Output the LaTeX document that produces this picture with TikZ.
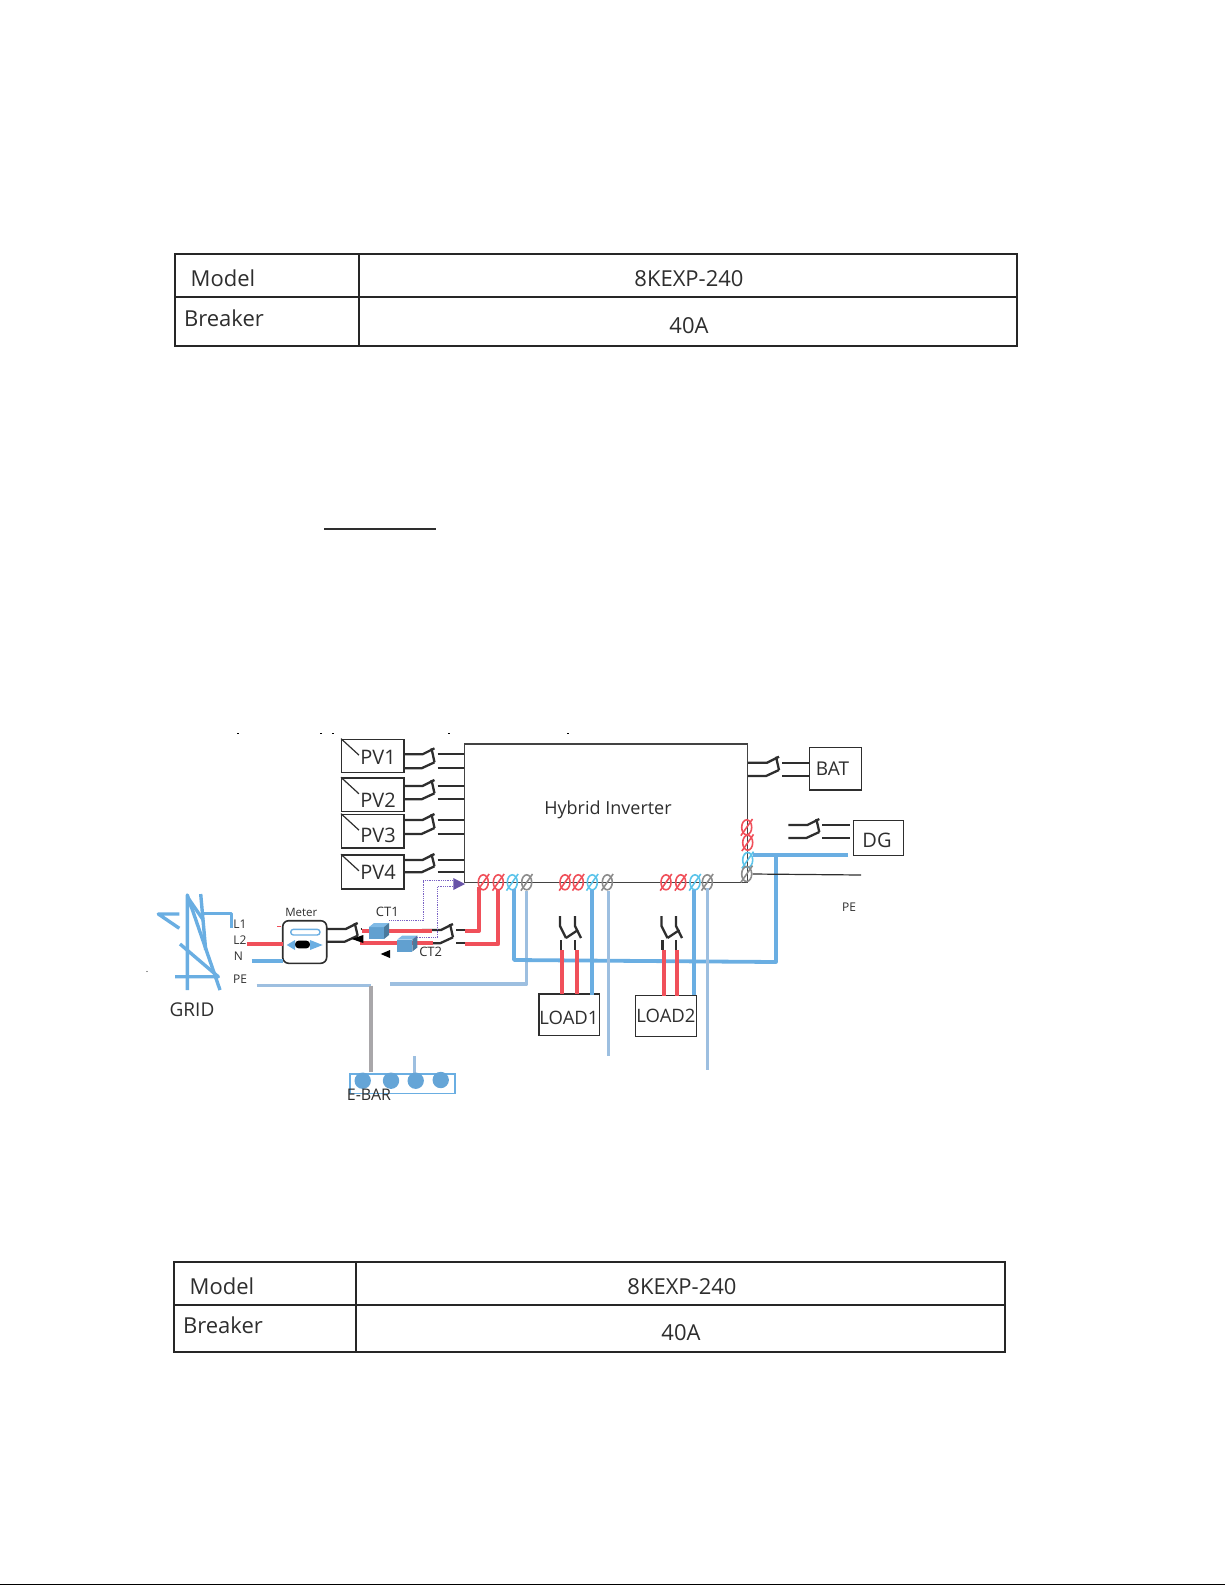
\documentclass[tikz,border=0pt]{standalone}
\usepackage{fontspec}
\setmainfont{Open Sans}
\usetikzlibrary{shapes.geometric}
\definecolor{wirered}{HTML}{F0505A}
\definecolor{wireblue}{HTML}{6AAEE2}
\definecolor{wirepale}{HTML}{9DBFE0}
\definecolor{wiregray}{HTML}{A9A7AA}
\definecolor{termblue}{HTML}{5CC4EA}
\definecolor{termgray}{HTML}{8C8C8C}
\definecolor{sigpurple}{HTML}{7A62C4}
\definecolor{inkdark}{HTML}{2E2E2E}
\tikzset{
	boxnode/.style={draw=inkdark, line width=1.4, inner sep=0pt, text=inkdark},
	lbl/.style={font=\fontsize{#1}{#1}\selectfont, text=inkdark, inner sep=0pt},
	redwire/.style={wirered, line width=4, line join=round},
	bluewire/.style={wireblue, line width=3.8, line join=round},
	palewire/.style={wirepale, line width=3.4, line join=round},
	swline/.style={inkdark, line width=2.3},
	terminal/.style={ellipse, draw=#1, line width=1.6, inner sep=0pt, minimum width=10, minimum height=15},
	tblrule/.style={line width=2.4, draw=black!85}
}
% double pole switch: name, left end, upper y, lower y, right end
\newcommand{\dswitch}[5]{
	\coordinate (#1ul) at (#2,#3);
	\coordinate (#1ll) at (#2,#4);
	\coordinate (#1um) at ({#2+19},#3);
	\coordinate (#1lm) at ({#2+18},#4);
	\coordinate (#1ub) at ({#2+31},{#3-6});
	\coordinate (#1lb) at ({#2+31},{#4-6});
	\coordinate (#1ur) at ({#2+34},#3);
	\coordinate (#1lr) at ({#2+34},#4);
	\coordinate (#1ue) at (#5,#3);
	\coordinate (#1le) at (#5,#4);
	\draw[swline] (#1ul) -- (#1um) -- (#1ub);
	\draw[swline] (#1ll) -- (#1lm) -- (#1lb);
	\draw[swline] ({#2+28},{#3-6}) -- (#1lb);
	\draw[swline] (#1ur) -- (#1ue);
	\draw[swline] (#1lr) -- (#1le);
}
% load switch drawn upright: left x, right x
\newcommand{\vswitch}[2]{
	\draw[swline] (#1,916) -- (#1,926) -- ({#1+6},938);
	\draw[swline] (#2,916) -- (#2,926) -- ({#2+6},938);
	\draw[swline] ({#1+6},938) -- ({#1+18},930);
	\draw[swline] ({#1+1},940) -- ({#1+1},950);
	\draw[swline] ({#2},940) -- ({#2},950);
}
% current transformer cube: left x, top y
\newcommand{\ctcube}[2]{
	\fill[wireblue!92!black] (#1,{#2+4}) rectangle ({#1+15},{#2+16});
	\fill[wireblue!85!white] (#1,{#2+4}) -- ({#1+5},#2) -- ({#1+20},#2) -- ({#1+15},{#2+4}) -- cycle;
	\fill[wireblue!70!black] ({#1+15},{#2+4}) -- ({#1+20},#2) -- ({#1+20},{#2+12}) -- ({#1+15},{#2+16}) -- cycle;
}
\begin{document}
\begin{tikzpicture}[x=1pt, y=-1pt]
	\useasboundingbox (0,0) rectangle (1225,1585);

	% Top table
	\draw[tblrule] (175,254) rectangle (1017,346);
	\draw[tblrule] (175,297) -- (1017,297);
	\draw[tblrule] (359,254) -- (359,346);
	\node[lbl=22] (modelA) at (223,278.5) {Model};
	\node[lbl=22] (sizeA) at (689,279) {8KEXP-240};
	\node[lbl=22] (breakerA) at (224,318) {Breaker};
	\node[lbl=22] (ampsA) at (689,326) {40A};

	% Underline left over above the diagram
	\draw[inkdark, line width=2] (324,528.5) -- (436,528.5);
	\foreach \tickx in {237,320,332,448,567}
		\draw[line width=1.2] (\tickx,733.5) -- ({\tickx+1.5},733.5);

	% Inverter
	\node[boxnode, draw=inkdark!90, line width=1.2, minimum width=283.4, minimum height=138.3] (inverter) at (606,813.2) {};
	\node[lbl=18] (invtxt) at (608,809.5) {Hybrid Inverter};

	% PV strings
	\foreach \pvname/\pvtop/\pvbot/\pvtxt/\swa/\swb in {
		1/739.3/772.3/757.7/754.3/768.3,
		2/778/811.7/800/786/799.3,
		3/814.3/848/835/820/834,
		4/855/889/872.7/860/872.3}{
		\node[boxnode, minimum width=62.3, minimum height={\pvbot-\pvtop}] (pv\pvname) at (372.8,{(\pvtop+\pvbot)/2}) {};
		\draw[inkdark, line width=1.2] (pv\pvname.north west) -- ++(18,16.5);
		\node[lbl=20] (pvtxt\pvname) at (378,\pvtxt) {PV\pvname};
		\dswitch{swpv\pvname}{403.5}{\swa}{\swb}{464}
	}

	% Battery and generator
	\node[boxnode, minimum width=52, minimum height=42.3] (bat) at (835.3,768.8) {};
	\node[lbl=19] (battxt) at (832.5,768.3) {BAT};
	\dswitch{swbat}{748}{762.7}{776}{809.3}
	\node[boxnode, minimum width=50.4, minimum height=34.6] (dg) at (878.5,838) {};
	\node[lbl=20] (dgtxt) at (877,840) {DG};
	\dswitch{swdg}{788.3}{825}{838}{850}

	% Grid tower
	\begin{scope}[wireblue, line width=3.4, line join=round]
		\draw (187.3,990) -- (187.3,895) -- (220,990);
		\draw (200.7,894) -- (205.7,950);
		\draw (188.3,898.3) -- (203.3,920);
		\draw (203.3,913.3) -- (231.7,913.3) -- (231.7,928.3);
		\draw (179.3,914) -- (158.3,914) -- (179.3,928.3);
		\draw (180,944) -- (218.3,976.7) -- (175,976.7);
	\end{scope}
	\node[lbl=19] (gridtxt) at (192,1009.3) {GRID};
	\node[lbl=12] (l1txt) at (240,924.3) {L1};
	\node[lbl=12] (l2txt) at (240,940) {L2};
	\node[lbl=12] (ntxt) at (238.5,956) {N};
	\node[lbl=12] (petxt) at (240,979.3) {PE};
	\fill[inkdark] (147,971.5) circle (0.6);
	\draw[wirered, line width=1] (277,926.7) -- (281,926.7);

	% Meter
	\node[draw=inkdark, line width=1.6, rounded corners=6, minimum width=44, minimum height=42.6, inner sep=0pt] (meter) at (304.7,942) {};
	\node[lbl=11.5] (metertxt) at (301.3,912.3) {Meter};
	\draw[wireblue, line width=1.4, rounded corners=2.8] (290.7,929.3) rectangle (320,935);
	\fill[black, rounded corners=3.5] (295,940.7) rectangle (310,948.3);
	\fill[wireblue] (295,940) -- (286.7,945) -- (295,950) -- cycle;
	\fill[wireblue] (310,940) -- (322.7,945) -- (310,950) -- cycle;

	% Grid side wires
	\coordinate (gridL2) at (246.7,944);
	\coordinate (gridN) at (251.7,960.7);
	\coordinate (gridPE) at (256.7,985.7);
	\coordinate (barDrop) at (370.7,985.7);
	\draw[redwire] (gridL2) -- (283,944);
	\draw[bluewire] (gridN) -- (283,960.7);
	\draw[palewire] (gridPE) -- (barDrop);

	% Meter and CT switches
	\dswitch{swmeter}{326.7}{929}{941.7}{361.7}
	\dswitch{swct}{422}{930}{943.3}{465}
	\coordinate (ctAleft) at (361.7,931);
	\coordinate (ctAright) at (431.7,931);
	\coordinate (ctBleft) at (360,943.3);
	\coordinate (ctBright) at (433,943.3);
	\draw[redwire] (ctAleft) -- (ctAright);
	\draw[redwire] (ctBleft) -- (ctBright);
	\fill[black] (351.7,939) -- (363.3,935) -- (363.3,943) -- cycle;
	\fill[black] (380.7,954) -- (390,950) -- (390,958) -- cycle;

	% Terminals on the inverter
	\foreach \tname/\tx/\ty/\tcol in {
		a/483.3/882.3/wirered, b/498.3/882.3/wirered, c/512.3/882.3/termblue, d/526.7/882.3/termgray,
		e/565/882.3/wirered, f/578.3/882.3/wirered, g/592.3/882.3/termblue, h/607.3/882.3/termgray,
		i/666/882.3/wirered, j/680.7/882.3/wirered, k/695/882.3/termblue, l/707.3/882.3/termgray,
		m/746.7/827.3/wirered, n/747.7/842.7/wirered, o/747.7/860/termblue, p/746.7/874/termgray}{
		\node[terminal=\tcol] (t\tname) at (\tx,\ty) {};
		\draw[\tcol, line width=1.6, shorten <=-3pt, shorten >=-3pt] (t\tname.south west) -- (t\tname.north east);
	}

	% Wires from the grid terminals
	\coordinate (redAend) at (465,931);
	\coordinate (redBend) at (465,944);
	\coordinate (paleEnd) at (390,984);
	\coordinate (busW) at (514,960);
	\coordinate (busE) at (776,962);
	\coordinate (dgBlue) at (848.3,855);
	\coordinate (dgBlueL) at (752.7,855);
	\coordinate (dgJoin) at (776,855);
	\coordinate (dgPE) at (861,875);
	\draw[redwire] (479,887) |- (redAend);
	\draw[redwire] (498.3,889) |- (redBend);
	\draw[palewire] (526.7,891) |- (paleEnd);
	\draw[bluewire] (514,889) -- (busW) -- (busE) -- (dgJoin);
	\draw[bluewire] (dgBlueL) -- (dgBlue);
	\draw[inkdark, line width=1.2] (tp.east) -- (dgPE);
	\node[lbl=12] (pedgtxt) at (849,907.7) {PE};

	% Loads
	\node[boxnode, minimum width=60.3, minimum height=41.3] (loadA) at (569.2,1014.7) {};
	\node[lbl=18.5] (loadAtxt) at (569,1017.7) {LOAD1};
	\node[boxnode, minimum width=60.6, minimum height=41] (loadB) at (666,1016.2) {};
	\node[lbl=18.5] (loadBtxt) at (666,1015.7) {LOAD2};
	\vswitch{560}{575}
	\vswitch{661.5}{676}
	\draw[redwire] (562.3,950) -- (562.3,993.5);
	\draw[redwire] (576.7,950) -- (576.7,993.5);
	\draw[redwire] (664,950) -- (664,995.5);
	\draw[redwire] (677.3,950) -- (677.3,995.5);
	\draw[bluewire] (592.3,890) -- (592.3,995);
	\draw[bluewire] (693.7,890) -- (693.7,995);
	\draw[palewire] (608.3,891) -- (608.3,1056);
	\draw[palewire] (707.7,888) -- (707.7,1070);

	% Second part of the PE line and the CTs on top
	\ctcube{369}{923}
	\ctcube{397.3}{935.5}
	\node[lbl=13] (ctAtxt) at (387.3,911.7) {CT1};
	\node[lbl=13] (ctBtxt) at (430.7,951.7) {CT2};
	\draw[sigpurple, line width=1.3, dash pattern=on 1pt off 0.8pt] (389.3,920.7) -- (423.3,920.7) -- (423.3,880.7) -- (455,880.7);
	\draw[sigpurple, line width=1.3, dash pattern=on 1pt off 0.8pt] (415,937.7) -- (437.7,937.7) -- (437.7,886.7) -- (455,886.7);
	\fill[sigpurple!85!black] (453.3,878) -- (465,884) -- (453.3,890) -- cycle;

	% Earth bar
	\node[draw=wireblue, line width=1.2, minimum width=105, minimum height=19.3, inner sep=0pt] (ebar) at (402.5,1083.7) {};
	\draw[wiregray, line width=4] (barDrop) -- (370.7,1072);
	\draw[wirepale, line width=3] (414,1056) -- (414,1073);
	\foreach \barx/\bary in {362.7/1080.7, 391/1080.7, 415.7/1080.7, 440.7/1080}
		\fill[wireblue!95!black] (\barx,\bary) circle (8.2);
	\node[lbl=16] (ebartxt) at (369,1095) {E-BAR};

	% Bottom table
	\draw[tblrule] (174,1262) rectangle (1005,1352);
	\draw[tblrule] (174,1305) -- (1005,1305);
	\draw[tblrule] (356,1262) -- (356,1352);
	\node[lbl=22] (modelB) at (222,1286.5) {Model};
	\node[lbl=22] (sizeB) at (682,1287) {8KEXP-240};
	\node[lbl=22] (breakerB) at (223,1325) {Breaker};
	\node[lbl=22] (ampsB) at (681,1333) {40A};

	% Page edge
	\draw[line width=1.3] (0,1584.4) -- (1225,1584.4);
\end{tikzpicture}
\end{document}
